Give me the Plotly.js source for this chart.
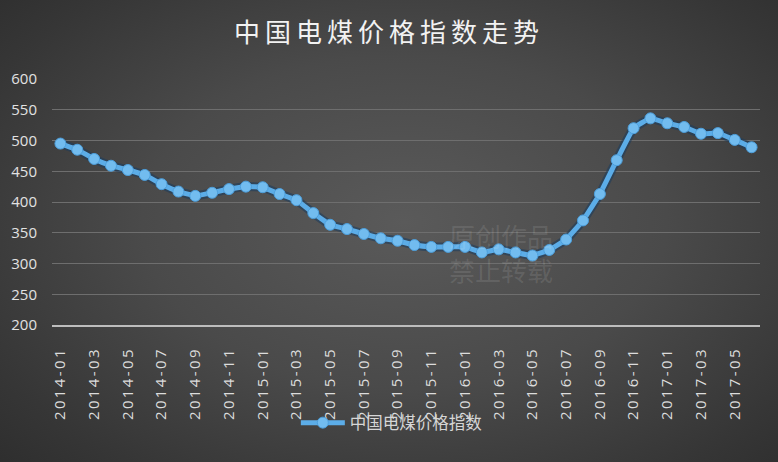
<!DOCTYPE html>
<html>
<head>
<meta charset="utf-8">
<script src="https://cdn.plot.ly/plotly-3.0.1.min.js"></script>
<style>
  html, body { margin: 0; padding: 0; }
  #chart {
    width: 778px; height: 462px;
    background: radial-gradient(ellipse 75% 80% at 52% 48%, #5a5a5a 0%, #4a4a4a 45%, #363636 80%, #2c2c2c 100%);
  }
  .gtitle { letter-spacing: 5px; }
  .xtick text { letter-spacing: 2.4px; }
</style>
</head>
<body>
<div id="chart"></div>
<script>
const months = [
  "2014-01","2014-02","2014-03","2014-04","2014-05","2014-06","2014-07","2014-08","2014-09","2014-10","2014-11","2014-12",
  "2015-01","2015-02","2015-03","2015-04","2015-05","2015-06","2015-07","2015-08","2015-09","2015-10","2015-11","2015-12",
  "2016-01","2016-02","2016-03","2016-04","2016-05","2016-06","2016-07","2016-08","2016-09","2016-10","2016-11","2016-12",
  "2017-01","2017-02","2017-03","2017-04","2017-05","2017-06"
];
const priceIndex = [
  495, 485, 470, 459, 452, 444, 429, 417, 410, 415, 421, 425,
  424, 413, 403, 382, 363, 356, 348, 341, 337, 330, 327, 327,
  327, 318, 323, 318, 313, 322, 339, 370, 413, 468, 520, 536,
  528, 522, 511, 512, 501, 489
];
const xTickLabels = [
  "2014-01","2014-03","2014-05","2014-07","2014-09","2014-11",
  "2015-01","2015-03","2015-05","2015-07","2015-09","2015-11",
  "2016-01","2016-03","2016-05","2016-07","2016-09","2016-11",
  "2017-01","2017-03","2017-05"
];
const yTicks = [200, 250, 300, 350, 400, 450, 500, 550, 600];
const seriesName = "中国电煤价格指数";
const chartTitle = "中国电煤价格指数走势";
const watermark = ["原创作品", "禁止转载"];

const traces = [
  {
    x: months, y: priceIndex, type: "scatter", mode: "lines",
    line: { color: "rgba(25,60,95,0.55)", width: 9, shape: "spline", smoothing: 0.3 },
    hoverinfo: "skip", showlegend: false
  },
  {
    x: months, y: priceIndex, type: "scatter", mode: "lines+markers",
    name: seriesName,
    line: { color: "#5cade8", width: 5, shape: "spline", smoothing: 0.3 },
    marker: { size: 11, color: "#72bcef", line: { color: "#4d9fdc", width: 1 } }
  }
];

const layout = {
  width: 778, height: 462,
  paper_bgcolor: "rgba(0,0,0,0)", plot_bgcolor: "rgba(0,0,0,0)",
  margin: { l: 52, r: 18, t: 79, b: 137 },
  title: {
    text: chartTitle,
    font: { family: "Noto Sans CJK SC", size: 26, color: "#f2f2f2" },
    x: 0.5, xanchor: "center", y: 0.928, yanchor: "middle"
  },
  xaxis: {
    type: "category", range: [-0.5, 41.5],
    tickmode: "array", tickvals: xTickLabels, ticktext: xTickLabels,
    tickangle: -90, ticks: "",
    tickfont: { family: "Open Sans", size: 15, color: "#dcdcdc" },
    ticklabelstandoff: 14,
    showgrid: false, zeroline: false,
    showline: true, linecolor: "#bdbdbd", linewidth: 2
  },
  yaxis: {
    range: [200, 600], tickmode: "array", tickvals: yTicks,
    ticks: "", tickfont: { family: "Open Sans", size: 15, color: "#e2e2e2" },
    ticklabelstandoff: 14,
    showgrid: true, gridcolor: "#6e6e6e", gridwidth: 1,
    zeroline: false, showline: false
  },
  showlegend: true,
  legend: {
    orientation: "h", x: 0.48, xanchor: "center", y: -0.398, yanchor: "middle",
    font: { family: "Noto Sans CJK SC", size: 16.5, color: "#d6d6d6" },
    itemwidth: 44, bgcolor: "rgba(0,0,0,0)"
  },
  annotations: [
    { xref: "paper", yref: "paper", x: 0.634, y: 0.293, xanchor: "center", yanchor: "middle",
      text: watermark.join("<br>"), showarrow: false,
      font: { family: "Noto Sans CJK SC", size: 26, color: "rgba(255,255,255,0.11)" } }
  ]
};

Plotly.newPlot("chart", traces, layout, { displayModeBar: false, staticPlot: true });
</script>
</body>
</html>
